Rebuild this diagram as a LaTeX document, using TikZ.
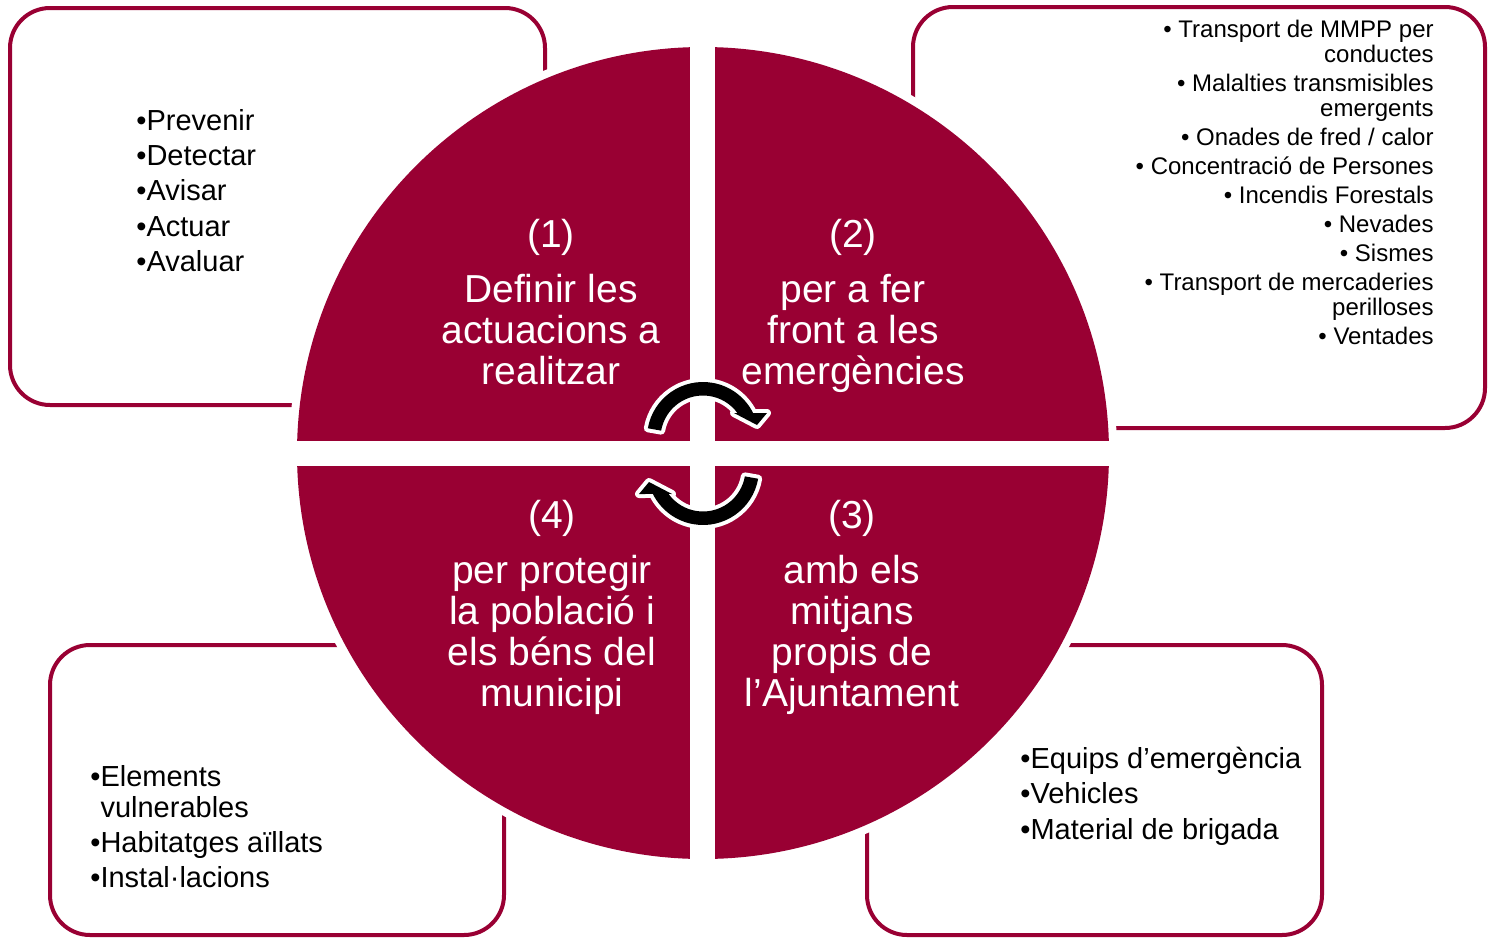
\documentclass[tikz,border=0pt]{standalone}
\usepackage{fontspec}
\setmainfont{Liberation Sans}
\definecolor{granat}{RGB}{153,0,51}
\tikzset{
  fletxa/.pic={
    \fill[black,preaction={draw=white,line width=4pt,line join=round}]
      (170:56) arc[start angle=170,end angle=26.5,radius=56] -- (64,25) -- (54,13)
      -- (31,25) -- (36:42.5) arc[start angle=36,end angle=170,radius=42.5] -- cycle;
  }
}
\begin{document}
\begin{tikzpicture}[x=0.5pt,y=-0.5pt,
    caixa/.style={draw=granat,line width=2pt,rounded corners=20pt},
    quart/.style={text=white,align=center,font=\fontsize{19.5}{20.5}\selectfont},
    llista/.style={inner sep=0pt,align=left,font=\fontsize{14.5}{17.6}\selectfont},
    petita/.style={inner sep=0pt,align=right,font=\fontsize{12}{12.5}\selectfont}]
	\useasboundingbox (0,0) rectangle (1488,937);
	% caixes
	\draw[caixa] (10,8) rectangle (545,405);
	\draw[caixa] (913,7) rectangle (1485,428);
	\draw[caixa] (50,645) rectangle (504,935);
	\draw[caixa] (867,645) rectangle (1322,935);
	% cercle
	\fill[white] (703,453) circle[radius=414];
	\fill[granat] (703,453) circle[radius=406];
	\fill[white] (690,40) rectangle (715,866);
	\fill[white] (290,441) rectangle (1116,466);
	\pic[yscale=-1] at (703,438) {fletxa};
	\pic[yscale=-1,rotate=180] at (703,469) {fletxa};
	% textos
	\node[quart] (q1) at (551,302) {(1)\\[7pt]Definir les\\actuacions a\\realitzar};
	\node[quart] (q2) at (853,306) {(2)\\[7pt]per a fer\\front a les\\emergències};
	\node[quart] (q3) at (852,607) {(3)\\[7pt]amb els\\mitjans\\propis de\\l’Ajuntament};
	\node[quart] (q4) at (552,607) {(4)\\[7pt]per protegir\\la població i\\els béns del\\municipi};
	\node[llista,anchor=north west] (l1) at (136,109) {•Prevenir\\•Detectar\\•Avisar\\•Actuar\\•Avaluar};
	\node[petita,anchor=north east] (l2) at (1434,20) {• Transport de MMPP per\\conductes\\[2pt]• Malalties transmisibles\\emergents\\[2pt]• Onades de fred / calor\\[2pt]• Concentració de Persones\\[2pt]• Incendis Forestals\\[2pt]• Nevades\\[2pt]• Sismes\\[2pt]• Transport de mercaderies\\perilloses\\[2pt]• Ventades};
	\node[llista,anchor=north west] (l3) at (1020,747) {•Equips d’emergència\\•Vehicles\\•Material de brigada};
	\node[llista,anchor=north west,font=\fontsize{14.5}{15.5}\selectfont] (l4) at (90,765) {•Elements\\\phantom{•}vulnerables\\[2pt]•Habitatges aïllats\\[2pt]•Instal·lacions};
\end{tikzpicture}
\end{document}
